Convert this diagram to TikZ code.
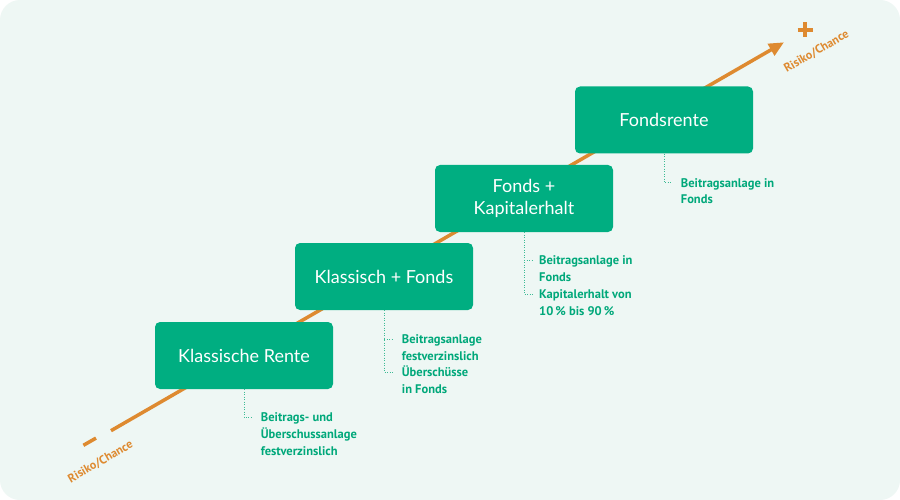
\documentclass[tikz,border=0pt]{standalone}
\usepackage{fontspec}
\setmainfont{Lato}
\newfontfamily\notefont{PT Sans}
\usetikzlibrary{arrows.meta}
\definecolor{bgc}{HTML}{EEF7F4}
\definecolor{boxgreen}{HTML}{00AE81}
\definecolor{notegreen}{HTML}{00A87A}
\definecolor{dotgreen}{HTML}{3DBB95}
\definecolor{riskorange}{HTML}{DE8A30}
\tikzset{
  stepbox/.style={fill=boxgreen, rounded corners=5pt, minimum width=178pt, minimum height=67pt,
    text=white, align=center, inner sep=0pt, font=\fontsize{18}{22.4}\selectfont},
  noteline/.style={anchor=base west, inner sep=0pt, text=notegreen,
    font=\notefont\bfseries\fontsize{12.5}{16.7}\selectfont},
  dotline/.style={draw=dotgreen, line width=0.9pt, dash pattern=on 0.9pt off 1.6pt},
  riskline/.style={draw=riskorange, line width=3.5pt},
  risklabel/.style={text=riskorange, rotate=30, inner sep=0pt,
    font=\notefont\bfseries\fontsize{12}{14}\selectfont}
}
\begin{document}
\begin{tikzpicture}[x=1pt,y=-1pt]
\useasboundingbox (0,0) rectangle (900,500);
\fill[white] (0,0) rectangle (900,500);
\fill[bgc, rounded corners=20pt] (0,0) rectangle (900,500);

% risk axis
\coordinate (axstart) at (111,430.7);
\coordinate (axend) at (784,42.3);
\draw[riskline, line cap=butt, -{Triangle[length=15pt,width=13pt]}] (axstart) -- (axend);
\coordinate (mA) at (83.4,445.3);
\coordinate (mB) at (96,438.1);
\draw[riskline] (mA) -- (mB);
\coordinate (pL) at (797.5,30);
\coordinate (pR) at (812.5,30);
\coordinate (pT) at (805,22.5);
\coordinate (pB) at (805,37.5);
\draw[riskline] (pL) -- (pR) (pT) -- (pB);
\node[risklabel] (rtop) at (816.5,51.5) {Risiko/Chance};
\node[risklabel] (rbot) at (100.5,462) {Risiko/Chance};

% boxes
\node[stepbox] (b1) at (244,355.5) {Klassische Rente};
\node[stepbox] (b2) at (384,276.5) {Klassisch + Fonds};
\node[stepbox] (b3) at (524,198.5) {Fonds +\\Kapitalerhalt};
\node[stepbox] (b4) at (664,120) {Fondsrente};

% connectors
\coordinate (c1a) at (244,417.3); \coordinate (c1b) at (253,417.3);
\draw[dotline] (b1.south) -- (c1a) -- (c1b);
\coordinate (c2a) at (384,339); \coordinate (c2b) at (393,339);
\coordinate (c2c) at (384,372); \coordinate (c2d) at (393,372);
\draw[dotline] (b2.south) -- (c2c) -- (c2d);
\draw[dotline] (c2a) -- (c2b);
\coordinate (c3a) at (524,260); \coordinate (c3b) at (533,260);
\coordinate (c3c) at (524,294); \coordinate (c3d) at (533,294);
\draw[dotline] (b3.south) -- (c3c) -- (c3d);
\draw[dotline] (c3a) -- (c3b);
\coordinate (c4a) at (664,182.7); \coordinate (c4b) at (672,182.7);
\draw[dotline] (b4.south) -- (c4a) -- (c4b);

% notes
\node[noteline] (n11) at (260.7,421.8) {Beitrags- und};
\node[noteline] (n12) at (260.7,438.5) {Überschussanlage};
\node[noteline] (n13) at (260.7,455.2) {festverzinslich};

\node[noteline] (n21) at (401.7,343.5) {Beitragsanlage};
\node[noteline] (n22) at (401.7,360.2) {festverzinslich};
\node[noteline] (n23) at (401.7,376.5) {Überschüsse};
\node[noteline] (n24) at (401.7,393.2) {in Fonds};

\node[noteline] (n31) at (539,264.5) {Beitragsanlage in};
\node[noteline] (n32) at (539,281.2) {Fonds};
\node[noteline] (n33) at (539,298.5) {Kapitalerhalt von};
\node[noteline] (n34) at (539,315.2) {10\,\% bis 90\,\%};

\node[noteline] (n41) at (680.7,187.2) {Beitragsanlage in};
\node[noteline] (n42) at (680.7,203.9) {Fonds};
\end{tikzpicture}
\end{document}
